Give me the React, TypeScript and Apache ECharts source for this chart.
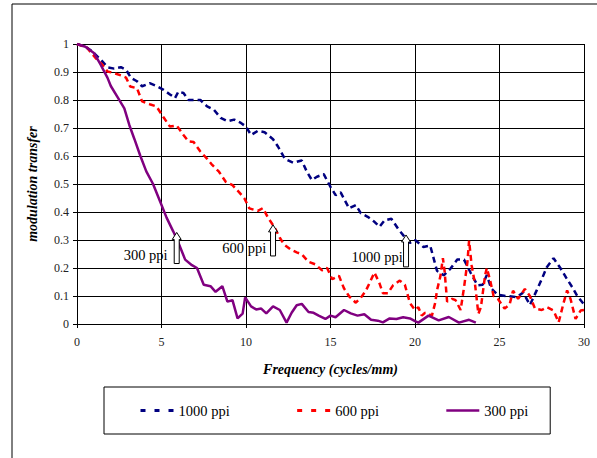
import React, { useEffect, useRef } from "react";
import * as echarts from "echarts";

// ---- data ----
const freq1000 = [0, 0.5, 0.9, 1.2, 1.5, 1.8, 2.2, 2.6, 2.9, 3.2, 3.55, 3.85, 4.3, 4.7, 5.1, 5.5, 5.8, 6.0, 6.3, 6.6, 6.9, 7.3, 7.7, 8.1, 8.5, 8.9, 9.3, 9.7, 10.0, 10.3, 10.7, 11.1, 11.6, 11.9, 12.3, 12.8, 13.3, 13.6, 13.9, 14.2, 14.6, 15.0, 15.3, 15.6, 16.1, 16.5, 16.8, 17.2, 17.6, 17.9, 18.2, 18.6, 19.0, 19.4, 19.7, 20.0, 20.5, 20.9, 21.3, 21.7, 22.1, 22.5, 22.9, 23.3, 23.7, 24.0, 24.25, 24.5, 24.9, 25.4, 26.0, 26.4, 26.8, 27.2, 27.5, 27.8, 28.2, 28.6, 29.0, 29.3, 29.6, 30.0];
const mtf1000 = [1, 0.99, 0.974, 0.956, 0.938, 0.917, 0.912, 0.917, 0.908, 0.879, 0.867, 0.849, 0.86, 0.85, 0.837, 0.82, 0.807, 0.83, 0.825, 0.8, 0.8, 0.8, 0.777, 0.765, 0.736, 0.724, 0.73, 0.718, 0.705, 0.675, 0.69, 0.685, 0.66, 0.633, 0.59, 0.576, 0.584, 0.544, 0.514, 0.526, 0.535, 0.49, 0.46, 0.47, 0.413, 0.425, 0.395, 0.383, 0.365, 0.347, 0.37, 0.376, 0.34, 0.31, 0.29, 0.3, 0.275, 0.28, 0.19, 0.174, 0.198, 0.23, 0.23, 0.182, 0.138, 0.14, 0.175, 0.128, 0.104, 0.1, 0.096, 0.112, 0.068, 0.12, 0.16, 0.203, 0.235, 0.2, 0.16, 0.132, 0.1, 0.07];

const freq600 = [0, 0.6, 1.1, 1.5, 1.8, 2.2, 2.6, 2.9, 3.15, 3.55, 3.85, 4.3, 4.7, 5.1, 5.5, 5.9, 6.3, 6.6, 6.9, 7.3, 7.7, 8.0, 8.4, 8.8, 9.2, 9.6, 9.9, 10.2, 10.7, 11.0, 11.3, 11.7, 12.0, 12.25, 12.65, 13.0, 13.3, 13.7, 14.1, 14.5, 14.8, 15.1, 15.5, 15.8, 16.1, 16.5, 16.8, 17.1, 17.3, 17.6, 17.9, 18.1, 18.4, 18.7, 19.1, 19.4, 19.7, 20.0, 20.2, 20.4, 20.6, 21.0, 21.2, 21.3, 21.5, 21.65, 21.75, 21.9, 22.2, 22.4, 22.7, 22.9, 23.1, 23.2, 23.35, 23.55, 23.75, 23.9, 24.15, 24.25, 24.45, 24.65, 24.9, 25.3, 25.6, 25.8, 26.1, 26.5, 26.8, 27.1, 27.5, 27.8, 28.2, 28.5, 28.8, 29.0, 29.2, 29.5, 29.8, 30.0];
const mtf600 = [1, 0.986, 0.95, 0.926, 0.902, 0.896, 0.888, 0.88, 0.848, 0.842, 0.795, 0.785, 0.777, 0.74, 0.705, 0.709, 0.675, 0.652, 0.65, 0.616, 0.59, 0.568, 0.544, 0.508, 0.496, 0.47, 0.449, 0.413, 0.404, 0.414, 0.38, 0.344, 0.308, 0.284, 0.266, 0.256, 0.249, 0.222, 0.213, 0.192, 0.2, 0.16, 0.172, 0.127, 0.099, 0.076, 0.094, 0.12, 0.145, 0.184, 0.145, 0.11, 0.11, 0.138, 0.155, 0.14, 0.075, 0.05, 0.06, 0.03, 0.04, 0.03, 0.077, 0.12, 0.17, 0.235, 0.19, 0.08, 0.09, 0.085, 0.05, 0.13, 0.22, 0.298, 0.21, 0.143, 0.036, 0.06, 0.175, 0.2, 0.155, 0.1, 0.09, 0.055, 0.07, 0.119, 0.09, 0.125, 0.1, 0.055, 0.05, 0.06, 0.048, 0.006, 0.077, 0.12, 0.09, 0.018, 0.048, 0.05];

const freq300 = [0, 0.5, 1.0, 1.4, 1.8, 2.0, 2.4, 2.8, 3.1, 3.4, 3.75, 4.1, 4.5, 4.9, 5.3, 5.7, 6.0, 6.4, 6.8, 7.1, 7.5, 7.9, 8.2, 8.6, 8.9, 9.2, 9.5, 9.8, 9.95, 10.3, 10.6, 10.9, 11.2, 11.6, 12.0, 12.4, 12.7, 13.0, 13.3, 13.7, 14.0, 14.3, 14.7, 15.0, 15.3, 15.8, 16.2, 16.6, 17.0, 17.4, 17.8, 18.1, 18.5, 18.9, 19.3, 19.7, 20.0, 20.2, 20.8, 21.4, 22.0, 22.6, 23.2, 23.6];
const mtf300 = [1, 0.99, 0.968, 0.926, 0.88, 0.85, 0.81, 0.77, 0.71, 0.66, 0.6, 0.545, 0.5, 0.44, 0.38, 0.33, 0.29, 0.23, 0.21, 0.2, 0.14, 0.135, 0.115, 0.135, 0.08, 0.085, 0.02, 0.037, 0.095, 0.063, 0.052, 0.055, 0.038, 0.063, 0.05, 0.005, 0.04, 0.067, 0.072, 0.043, 0.04, 0.03, 0.018, 0.03, 0.024, 0.05, 0.038, 0.03, 0.035, 0.015, 0.012, 0.006, 0.02, 0.018, 0.024, 0.02, 0.01, 0.005, 0.03, 0.013, 0.025, 0.005, 0.015, 0.005];

const seriesNames = ["1000 ppi", "600 ppi", "300 ppi"];
const xTicks = { min: 0, max: 30, interval: 5 };
const yTicks = { min: 0, max: 1, interval: 0.1 };

// annotations: label, arrow x, arrow tip y, arrow base y, label right-end x, label y
const annLabels = ["300 ppi", "600 ppi", "1000 ppi"];
const annArrowX = [5.9, 11.6, 19.47];
const annTipY = [0.327, 0.354, 0.318];
const annBaseY = [0.216, 0.243, 0.204];
const annTextX = [5.36, 11.2, 19.27];
const annTextY = [0.246, 0.271, 0.239];

const zip = (xs: number[], ys: number[]) => xs.map((x, i) => [x, ys[i]]);

const SERIF = "Liberation Serif";

export default function App() {
  const ref = useRef<HTMLDivElement>(null);

  useEffect(() => {
    document.body.style.margin = "0";
    const chart = echarts.init(ref.current!, undefined, { renderer: "svg" });
    const colors = ["#000080", "#ff0000", "#800080"];
    const data = [zip(freq1000, mtf1000), zip(freq600, mtf600), zip(freq300, mtf300)];
    const dashes: any[] = [[6, 4], [6, 4], "solid"];
    const legendDashes: any[] = [[5, 9], [5, 9], "solid"];

    chart.setOption({
      animation: false,
      backgroundColor: "#fff",
      grid: { left: 77, right: 13, top: 44, bottom: 134, show: false },
      xAxis: {
        type: "value",
        min: xTicks.min,
        max: xTicks.max,
        interval: xTicks.interval,
        name: "Frequency (cycles/mm)",
        nameLocation: "middle",
        nameGap: 38,
        nameTextStyle: { fontFamily: SERIF, fontSize: 14, fontWeight: "bold", fontStyle: "italic", color: "#000" },
        axisLine: { lineStyle: { color: "#000", width: 1 } },
        axisTick: { show: true, length: 4, lineStyle: { color: "#000" } },
        axisLabel: { fontFamily: SERIF, fontSize: 12, color: "#222", margin: 12 },
        splitLine: { show: true, lineStyle: { color: "#000", width: 1 } },
      },
      yAxis: {
        type: "value",
        min: yTicks.min,
        max: yTicks.max,
        interval: yTicks.interval,
        name: "modulation transfer",
        nameLocation: "middle",
        nameGap: 38,
        nameRotate: 90,
        nameTextStyle: { fontFamily: SERIF, fontSize: 14, fontWeight: "bold", fontStyle: "italic", color: "#000" },
        axisLine: { show: true, lineStyle: { color: "#000", width: 1 } },
        axisTick: { show: true, length: 4, lineStyle: { color: "#000" } },
        axisLabel: { fontFamily: SERIF, fontSize: 12, color: "#222", margin: 8 },
        splitLine: { show: true, lineStyle: { color: "#000", width: 1 } },
      },
      legend: {
        left: 104,
        top: 387,
        padding: [16, 22, 16, 35],
        itemWidth: 33,
        itemHeight: 14,
        itemGap: 66,
        borderColor: "#000",
        borderWidth: 1,
        textStyle: { fontFamily: SERIF, fontSize: 14.5, color: "#000" },
        data: seriesNames.map((n, i) => ({
          name: n,
          itemStyle: { opacity: 0 },
          lineStyle: { color: colors[i], width: i === 2 ? 2.5 : 3, type: legendDashes[i] },
        })),
      },
      series: seriesNames.map((n, i) => ({
        name: n,
        type: "line",
        data: data[i],
        showSymbol: false,
        symbol: "none",
        color: colors[i],
        lineStyle: { color: colors[i], width: 2.5, type: dashes[i] },
        z: 3 + (i === 2 ? 1 : 0),
      })),
    });

    const graphics: any[] = [
      {
        type: "rect",
        shape: { x: 12, y: 4, width: 700, height: 600 },
        style: { fill: "none", stroke: "#000", lineWidth: 1 },
        silent: true,
      },
    ];
    annLabels.forEach((label, i) => {
      const tip = chart.convertToPixel({ gridIndex: 0 }, [annArrowX[i], annTipY[i]]) as number[];
      const base = chart.convertToPixel({ gridIndex: 0 }, [annArrowX[i], annBaseY[i]]) as number[];
      const tp = chart.convertToPixel({ gridIndex: 0 }, [annTextX[i], annTextY[i]]) as number[];
      const cx = tip[0];
      const ty = tip[1];
      const by = base[1];
      const hw = 4.5;
      const sw = 2.5;
      const hh = 7;
      graphics.push({
        type: "polygon",
        z: 100,
        shape: {
          points: [
            [cx, ty],
            [cx + hw, ty + hh],
            [cx + sw, ty + hh],
            [cx + sw, by],
            [cx - sw, by],
            [cx - sw, ty + hh],
            [cx - hw, ty + hh],
          ],
        },
        style: { fill: "#fff", stroke: "#000", lineWidth: 1 },
      });
      graphics.push({
        type: "text",
        z: 100,
        x: tp[0],
        y: tp[1],
        style: {
          text: label,
          fontFamily: SERIF,
          fontSize: 14.5,
          fill: "#000",
          textAlign: "right",
          textVerticalAlign: "middle",
        },
      });
    });
    chart.setOption({ graphic: graphics });

    return () => chart.dispose();
  }, []);

  return <div ref={ref} style={{ width: 597, height: 458 }} />;
}
